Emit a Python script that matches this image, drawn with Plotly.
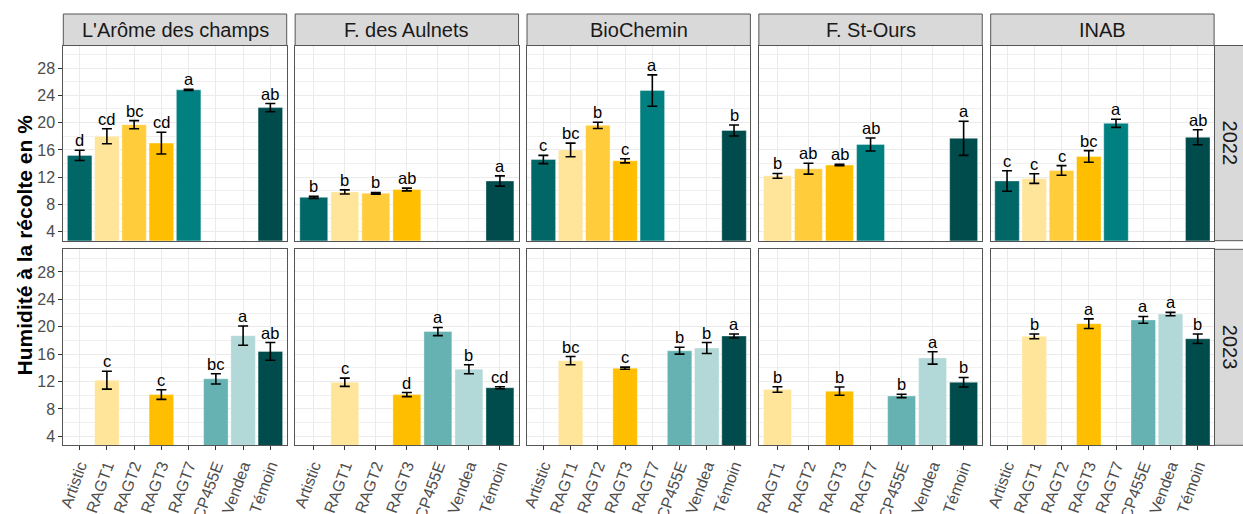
import plotly.graph_objects as go

# ---------------- data ----------------
sites = ["L'Arôme des champs", "F. des Aulnets", "BioChemin", "F. St-Ours", "INAB"]
years = ["2022", "2023"]
varieties = ["Artistic", "RAGT1", "RAGT2", "RAGT3", "RAGT7", "CP455E", "Vendea", "Témoin"]
variety_colors = ["#006666", "#ffe599", "#ffcd3c", "#ffbf00", "#008080", "#66b2b2", "#b2d8d8", "#004c4c"]

# categories present on each site's x axis
site_categories = [
    ["Artistic", "RAGT1", "RAGT2", "RAGT3", "RAGT7", "CP455E", "Vendea", "Témoin"],
    ["Artistic", "RAGT1", "RAGT2", "RAGT3", "CP455E", "Vendea", "Témoin"],
    ["Artistic", "RAGT1", "RAGT2", "RAGT3", "RAGT7", "CP455E", "Vendea", "Témoin"],
    ["RAGT1", "RAGT2", "RAGT3", "RAGT7", "CP455E", "Vendea", "Témoin"],
    ["Artistic", "RAGT1", "RAGT2", "RAGT3", "RAGT7", "CP455E", "Vendea", "Témoin"],
]

# values in `varieties` order (None = not grown)
arome_2022 = [15.2, 18.0, 19.7, 17.0, 24.8, None, None, 22.2]
arome_2022_se = [0.75, 1.1, 0.6, 1.6, 0.1, None, None, 0.6]
arome_2022_lab = ["d", "cd", "bc", "cd", "a", None, None, "ab"]
arome_2023 = [None, 12.2, None, 10.1, None, 12.4, 18.7, 16.4]
arome_2023_se = [None, 1.3, None, 0.7, None, 0.75, 1.4, 1.3]
arome_2023_lab = [None, "c", None, "c", None, "bc", "a", "ab"]

aulnets_2022 = [9.05, 9.85, 9.65, 10.2, None, None, None, 11.45]
aulnets_2022_se = [0.15, 0.3, 0.12, 0.2, None, None, None, 0.75]
aulnets_2022_lab = ["b", "b", "b", "ab", None, None, None, "a"]
aulnets_2023 = [None, 11.9, None, 10.1, None, 19.3, 13.8, 11.1]
aulnets_2023_se = [None, 0.6, None, 0.3, None, 0.6, 0.65, 0.15]
aulnets_2023_lab = [None, "c", None, "d", None, "a", "b", "cd"]

biochemin_2022 = [14.6, 16.0, 19.6, 14.4, 24.7, None, None, 18.85]
biochemin_2022_se = [0.6, 1.0, 0.45, 0.3, 2.3, None, None, 0.8]
biochemin_2022_lab = ["c", "bc", "b", "c", "a", None, None, "b"]
biochemin_2023 = [None, 15.05, None, 13.95, None, 16.5, 16.9, 18.65]
biochemin_2023_se = [None, 0.6, None, 0.15, None, 0.5, 0.8, 0.3]
biochemin_2023_lab = [None, "bc", None, "c", None, "b", "b", "a"]

stours_2022 = [None, 12.2, 13.25, 13.8, 16.8, None, None, 17.7]
stours_2022_se = [None, 0.35, 0.8, 0.1, 0.95, None, None, 2.5]
stours_2022_lab = [None, "b", "ab", "ab", "ab", None, None, "a"]
stours_2023 = [None, 10.85, None, 10.6, None, 9.9, 15.45, 11.9]
stours_2023_se = [None, 0.4, None, 0.6, None, 0.25, 0.9, 0.7]
stours_2023_lab = [None, "b", None, "b", None, "b", "a", "b"]

inab_2022 = [11.45, 11.8, 13.0, 15.05, 19.9, None, None, 17.85]
inab_2022_se = [1.5, 0.7, 0.7, 0.85, 0.6, None, None, 1.1]
inab_2022_lab = ["c", "c", "c", "bc", "a", None, None, "ab"]
inab_2023 = [None, 18.6, None, 20.45, None, 21.0, 21.85, 18.25]
inab_2023_se = [None, 0.35, None, 0.7, None, 0.5, 0.25, 0.7]
inab_2023_lab = [None, "b", None, "a", None, "a", "a", "b"]

y_title = "Humidité à la récolte en %"
y_ticks = [4, 8, 12, 16, 20, 24, 28]

panels = [
    [(arome_2022, arome_2022_se, arome_2022_lab), (aulnets_2022, aulnets_2022_se, aulnets_2022_lab),
     (biochemin_2022, biochemin_2022_se, biochemin_2022_lab), (stours_2022, stours_2022_se, stours_2022_lab),
     (inab_2022, inab_2022_se, inab_2022_lab)],
    [(arome_2023, arome_2023_se, arome_2023_lab), (aulnets_2023, aulnets_2023_se, aulnets_2023_lab),
     (biochemin_2023, biochemin_2023_se, biochemin_2023_lab), (stours_2023, stours_2023_se, stours_2023_lab),
     (inab_2023, inab_2023_se, inab_2023_lab)],
]

# ---------------- layout geometry (pixels) ----------------
W, H = 1243, 514
FONT = "Liberation Sans, Arial, sans-serif"
panel_left0 = 63.3
panel_w = 223.4
panel_step = 231.85
row_tops = [45.5, 249.3]
row_bots = [240.7, 445.3]
strip_top = 14.0
rstrip_x0, rstrip_x1 = 1214.5, 1246

def px(x):
    return x / W

def py(y):
    return 1 - y / H

fig = go.Figure()
layout = dict(
    width=W, height=H, margin=dict(l=0, r=0, t=0, b=0, autoexpand=False),
    paper_bgcolor="white", plot_bgcolor="white", showlegend=False,
    font=dict(family=FONT), shapes=[], annotations=[],
)

for r in range(2):
    for c in range(5):
        k = r * 5 + c + 1
        xs = "" if k == 1 else str(k)
        cats = site_categories[c]
        vals, ses, labs = panels[r][c]
        xv, yv, ev, cv = [], [], [], []
        for cat in cats:
            i = varieties.index(cat)
            xv.append(cat)
            yv.append(vals[i])
            ev.append(ses[i])
            cv.append(variety_colors[i])
        fig.add_trace(go.Bar(
            x=xv, y=yv, width=0.9, marker=dict(color=cv, line=dict(width=0.6, color="rgba(255,255,255,0.6)")),
            error_y=dict(type="data", array=ev, color="black", thickness=1.6, width=5),
            xaxis="x" + xs, yaxis="y" + xs, hoverinfo="skip",
        ))
        for cat in cats:
            i = varieties.index(cat)
            if vals[i] is None:
                continue
            layout["annotations"].append(dict(
                x=cat, y=vals[i] + ses[i], xref="x" + xs, yref="y" + xs,
                text=labs[i], showarrow=False, yanchor="bottom", yshift=-1,
                font=dict(size=16.5, color="black", family=FONT),
            ))
        x0 = panel_left0 + c * panel_step
        x1 = x0 + panel_w
        layout["xaxis" + xs] = dict(
            domain=[px(x0), px(x1)], anchor="y" + xs, type="category", automargin=False,
            categoryorder="array", categoryarray=cats, range=[-0.6, len(cats) - 0.4],
            showgrid=True, gridcolor="#ebebeb", gridwidth=1.1, zeroline=False,
            showline=True, mirror=True, linecolor="#555555", linewidth=1,
            ticks="outside" if r == 1 else "", ticklen=4, tickcolor="#333333", tickwidth=1,
            showticklabels=(r == 1), tickangle=-70, ticklabeloverflow="allow",
            tickfont=dict(size=16, color="#4d4d4d", family=FONT), fixedrange=True,
        )
        layout["yaxis" + xs] = dict(
            domain=[py(row_bots[r]), py(row_tops[r])], anchor="x" + xs, automargin=False,
            range=[2.7, 31.3], tickvals=y_ticks, showgrid=True, gridcolor="#ebebeb", gridwidth=1.1,
            minor=dict(tickvals=[6, 10, 14, 18, 22, 26, 30], showgrid=True, gridcolor="#f0f0f0", gridwidth=0.6),
            zeroline=False, showline=True, mirror=True, linecolor="#555555", linewidth=1,
            ticks="outside" if c == 0 else "", ticklen=4, tickcolor="#333333", tickwidth=1,
            showticklabels=(c == 0), tickfont=dict(size=16, color="#4d4d4d", family=FONT),
            fixedrange=True,
        )

# top strips (sites)
for c in range(5):
    x0 = panel_left0 + c * panel_step
    x1 = x0 + panel_w
    layout["shapes"].append(dict(type="rect", xref="paper", yref="paper",
                                 x0=px(x0), x1=px(x1), y0=py(row_tops[0]), y1=py(strip_top),
                                 fillcolor="#d9d9d9", line=dict(color="#555555", width=1), layer="above"))
    layout["annotations"].append(dict(x=px((x0 + x1) / 2), y=py((strip_top + row_tops[0]) / 2),
                                      xref="paper", yref="paper", text=sites[c], showarrow=False,
                                      xanchor="center", yanchor="middle",
                                      font=dict(size=20, color="#1a1a1a", family=FONT)))
# right strips (years)
for r in range(2):
    layout["shapes"].append(dict(type="rect", xref="paper", yref="paper",
                                 x0=px(rstrip_x0), x1=px(rstrip_x1), y0=py(row_bots[r]), y1=py(row_tops[r]),
                                 fillcolor="#d9d9d9", line=dict(color="#555555", width=1), layer="above"))
    layout["annotations"].append(dict(x=px(1229.5), y=py((row_tops[r] + row_bots[r]) / 2),
                                      xref="paper", yref="paper", text=years[r], showarrow=False,
                                      textangle=90, xanchor="center", yanchor="middle",
                                      font=dict(size=20, color="#1a1a1a", family=FONT)))
# y title
layout["annotations"].append(dict(x=px(24), y=py((row_tops[0] + row_bots[1]) / 2), xref="paper", yref="paper",
                                  text="<b>" + y_title + "</b>", showarrow=False, textangle=-90,
                                  xanchor="center", yanchor="middle",
                                  font=dict(size=21, color="black", family=FONT)))

fig.update_layout(**layout)
fig.write_html("out.html", config={"displayModeBar": False},
               post_script="document.body.style.margin='0';document.body.style.overflow='hidden';")
